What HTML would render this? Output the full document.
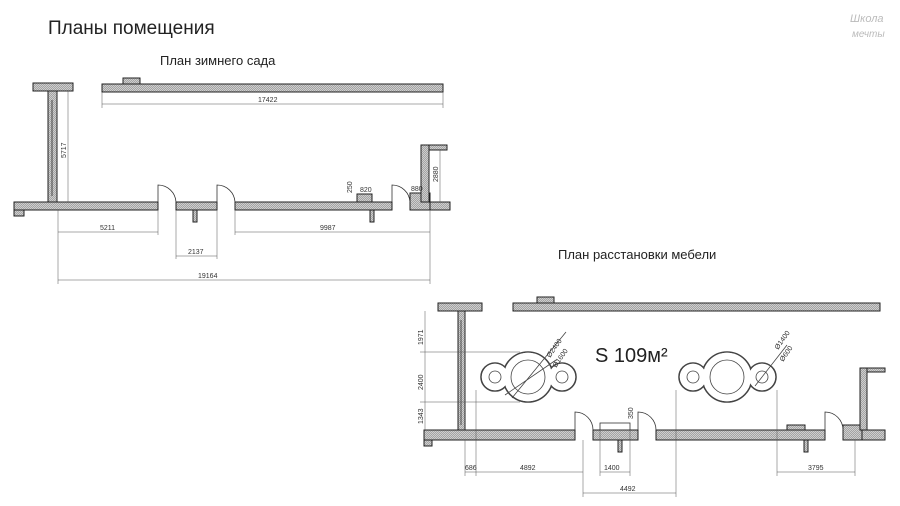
<!DOCTYPE html>
<html><head><meta charset="utf-8"><style>
html,body{margin:0;padding:0;background:#fff;}
svg{display:block;}
text{font-family:"Liberation Sans",sans-serif;fill:#222;}
.d{font-size:7px;fill:#333;}
</style></head><body>
<svg width="900" height="506" viewBox="0 0 900 506" xmlns="http://www.w3.org/2000/svg">
<defs>
<pattern id="h" width="2" height="2" patternUnits="userSpaceOnUse"><rect width="2" height="2" fill="#d4d4d4"/><path d="M0 2L2 0" stroke="#888" stroke-width="0.6"/></pattern>
</defs>
<text x="48" y="34" style="font-size:19px">Планы помещения</text>
<text x="160" y="65" style="font-size:13px">План зимнего сада</text>
<text x="558" y="259" style="font-size:13px">План расстановки мебели</text>
<text x="850" y="22" style="font-size:11px;fill:#bbb;font-style:italic">Школа</text>
<text x="852" y="37" style="font-size:10px;fill:#bbb;font-style:italic">мечты</text>

<g fill="url(#h)" stroke="#222" stroke-width="1">
<rect x="33" y="83" width="40" height="8"/>
<rect x="48" y="91" width="9" height="112"/>
<rect x="102" y="84" width="341" height="8"/>
<rect x="123" y="78" width="17" height="6"/>
<rect x="14" y="202" width="144" height="8"/>
<rect x="14" y="210" width="10" height="6"/>
<rect x="176" y="202" width="41" height="8"/>
<rect x="235" y="202" width="157" height="8"/>
<rect x="357" y="194" width="15" height="8"/>
<rect x="410" y="193" width="20" height="17"/>
<rect x="430" y="202" width="20" height="8"/>
<rect x="421" y="145" width="8" height="57"/>
<rect x="429" y="145" width="18" height="5"/>
<rect x="193" y="210" width="4" height="12"/>
<rect x="370" y="210" width="4" height="12"/>
<rect x="438" y="303" width="44" height="8"/>
<rect x="458" y="311" width="7" height="119"/>
<rect x="513" y="303" width="367" height="8"/>
<rect x="537" y="297" width="17" height="6"/>
<rect x="424" y="430" width="151" height="10"/>
<rect x="424" y="440" width="8" height="6"/>
<rect x="593" y="430" width="45" height="10"/>
<rect x="656" y="430" width="169" height="10"/>
<rect x="787" y="425" width="18" height="5"/>
<rect x="843" y="425" width="19" height="15"/>
<rect x="862" y="430" width="23" height="10"/>
<rect x="860" y="368" width="7" height="62"/>
<rect x="867" y="368" width="18" height="4"/>
<rect x="618" y="440" width="4" height="12"/>
<rect x="804" y="440" width="4" height="12"/>
</g>
<g fill="none" stroke="#333" stroke-width="0.8">
<line x1="52" y1="100" x2="52" y2="196"/><line x1="461" y1="320" x2="461" y2="425"/>
<path d="M158 202V185A18 18 0 0 1 176 202"/>
<path d="M217 202V185A18 18 0 0 1 235 202"/>
<path d="M392 202V185A18 18 0 0 1 410 202"/>
<path d="M575 430V412A18 18 0 0 1 593 430"/>
<path d="M638 430V412A18 18 0 0 1 656 430"/>
<path d="M825 430V412A18 18 0 0 1 843 430"/>
<rect x="600" y="423" width="30" height="7"/>
</g>
<g stroke="#444" stroke-width="1.6" fill="#fff">
<circle cx="528" cy="377" r="25"/><circle cx="495" cy="377" r="14"/><circle cx="562" cy="377" r="14"/>
<circle cx="727" cy="377" r="25"/><circle cx="693" cy="377" r="14"/><circle cx="762" cy="377" r="14"/>
</g>
<g fill="#fff">
<circle cx="528" cy="377" r="24.2"/><circle cx="495" cy="377" r="13.2"/><circle cx="562" cy="377" r="13.2"/>
<circle cx="727" cy="377" r="24.2"/><circle cx="693" cy="377" r="13.2"/><circle cx="762" cy="377" r="13.2"/>
</g>
<g fill="none" stroke="#444" stroke-width="0.8">
<circle cx="528" cy="377" r="17"/><circle cx="495" cy="377" r="6"/><circle cx="562" cy="377" r="6"/>
<circle cx="727" cy="377" r="17"/><circle cx="693" cy="377" r="6"/><circle cx="762" cy="377" r="6"/>
<line x1="512" y1="398" x2="566" y2="332"/><line x1="505" y1="395" x2="556" y2="360"/>
<line x1="755" y1="386" x2="787" y2="345"/>
</g>
<text x="595" y="362" style="font-size:20px">S 109м²</text>
<text class="d" transform="translate(550,358) rotate(-55)">Ø2400</text>
<text class="d" transform="translate(556,368) rotate(-55)">Ø1600</text>
<text class="d" transform="translate(778,350) rotate(-55)">Ø1400</text>
<text class="d" transform="translate(783,362) rotate(-55)">Ø600</text>
<g stroke="#555" stroke-width="0.5" fill="none">
<line x1="102" y1="104" x2="443" y2="104"/><line x1="102" y1="92" x2="102" y2="108"/><line x1="443" y1="92" x2="443" y2="108"/>
<line x1="68" y1="91" x2="68" y2="202"/>
<line x1="58" y1="210" x2="58" y2="284"/><line x1="430" y1="210" x2="430" y2="284"/>
<line x1="58" y1="232" x2="158" y2="232"/><line x1="158" y1="210" x2="158" y2="235"/>
<line x1="235" y1="232" x2="430" y2="232"/><line x1="235" y1="210" x2="235" y2="235"/>
<line x1="176" y1="256" x2="217" y2="256"/><line x1="176" y1="210" x2="176" y2="259"/><line x1="217" y1="210" x2="217" y2="259"/>
<line x1="58" y1="280" x2="430" y2="280"/>
<line x1="440" y1="150" x2="440" y2="202"/>
<line x1="425" y1="311" x2="425" y2="430"/><line x1="420" y1="352" x2="520" y2="352"/><line x1="420" y1="402" x2="520" y2="402"/>
<line x1="465" y1="440" x2="465" y2="476"/><line x1="476" y1="390" x2="476" y2="476"/><line x1="583" y1="440" x2="583" y2="497"/>
<line x1="465" y1="472" x2="583" y2="472"/>
<line x1="600" y1="430" x2="600" y2="476"/><line x1="630" y1="430" x2="630" y2="476"/><line x1="600" y1="472" x2="630" y2="472"/>
<line x1="676" y1="390" x2="676" y2="497"/><line x1="583" y1="493" x2="676" y2="493"/>
<line x1="777" y1="390" x2="777" y2="476"/><line x1="855" y1="440" x2="855" y2="476"/><line x1="777" y1="472" x2="855" y2="472"/>
</g>
<text class="d" x="258" y="102">17422</text>
<text class="d" x="100" y="230">5211</text>
<text class="d" x="320" y="230">9987</text>
<text class="d" x="188" y="254">2137</text>
<text class="d" x="198" y="278">19164</text>
<text class="d" x="360" y="192">820</text>
<text class="d" x="411" y="191">880</text>
<text class="d" transform="translate(66,158) rotate(-90)">5717</text>
<text class="d" transform="translate(438,182) rotate(-90)">2880</text>
<text class="d" transform="translate(352,193) rotate(-90)">250</text>
<text class="d" transform="translate(423,345) rotate(-90)">1971</text>
<text class="d" transform="translate(423,390) rotate(-90)">2400</text>
<text class="d" transform="translate(423,424) rotate(-90)">1343</text>
<text class="d" transform="translate(633,419) rotate(-90)">350</text>
<text class="d" x="465" y="470">686</text>
<text class="d" x="520" y="470">4892</text>
<text class="d" x="604" y="470">1400</text>
<text class="d" x="620" y="491">4492</text>
<text class="d" x="808" y="470">3795</text>
</svg>
</body></html>
